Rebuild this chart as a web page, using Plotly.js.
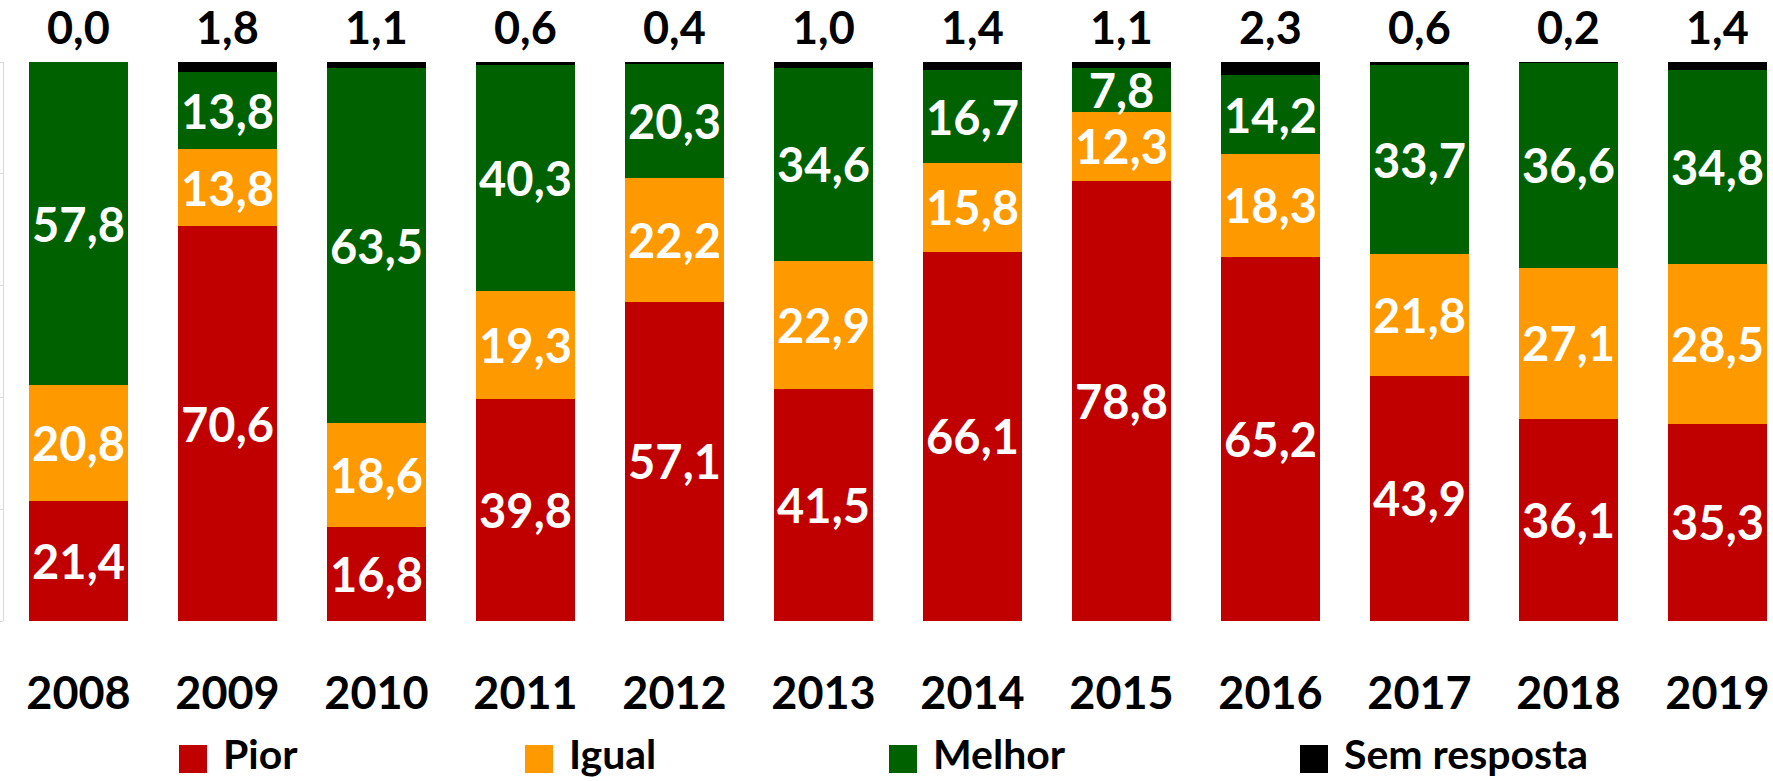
<!DOCTYPE html>
<html>
<head>
<meta charset="utf-8">
<script src="https://cdn.plot.ly/plotly-3.0.1.min.js"></script>
<style>
html,body{margin:0;padding:0;background:#fff;}
#chart{width:1773px;height:781px;}
</style>
</head>
<body>
<div id="chart"></div>
<script>
// ---- data ----
var years = ['2008','2009','2010','2011','2012','2013','2014','2015','2016','2017','2018','2019'];
var pior   = [21.4, 70.6, 16.8, 39.8, 57.1, 41.5, 66.1, 78.8, 65.2, 43.9, 36.1, 35.3];
var igual  = [20.8, 13.8, 18.6, 19.3, 22.2, 22.9, 15.8, 12.3, 18.3, 21.8, 27.1, 28.5];
var melhor = [57.8, 13.8, 63.5, 40.3, 20.3, 34.6, 16.7,  7.8, 14.2, 33.7, 36.6, 34.8];
var semResposta = [0.0, 1.8, 1.1, 0.6, 0.4, 1.0, 1.4, 1.1, 2.3, 0.6, 0.2, 1.4];
var seriesNames = ['Pior', 'Igual', 'Melhor', 'Sem resposta'];
var seriesColors = ['#C00000', '#FF9900', '#006100', '#000000'];

// ---- helpers ----
function fmt(v){ return v.toFixed(1).replace('.', ','); }
var FONT = 'Lato, "Open Sans", sans-serif';
var W = 1773, H = 781, L = 4, R = 0, T = 62, B = 160;
var plotW = W - L - R, plotH = H - T - B;
function px2x(px){ return (px - L) / plotW; }
function py2y(py){ return 1 - (py - T) / plotH; }

var seriesValues = [pior, igual, melhor, semResposta];
var traces = seriesValues.map(function(vals, k){
  var isLast = (k === seriesValues.length - 1);
  return {
    type: 'bar',
    name: seriesNames[k],
    x: years,
    y: vals,
    marker: {color: seriesColors[k], line: {width: 0}},
    text: isLast ? null : vals.map(fmt),
    textposition: isLast ? 'none' : 'inside',
    insidetextanchor: 'middle',
    textangle: 0,
    constraintext: 'none',
    insidetextfont: {family: FONT, size: 47, color: '#ffffff', weight: 700},
    hoverinfo: 'x+y+name',
    showlegend: false
  };
});

// top labels (Sem resposta values) above each stack
// (category axis: annotation x given as the category index)
var annotations = years.map(function(yr, i){
  var top = Math.round((pior[i] + igual[i] + melhor[i] + semResposta[i]) * 10) / 10;
  return {
    x: i, y: top, xref: 'x', yref: 'y',
    text: fmt(semResposta[i]),
    showarrow: false,
    yanchor: 'middle', xanchor: 'center',
    yshift: 35,
    font: {family: FONT, size: 45, color: '#000000', weight: 700}
  };
});

// custom legend
var legendSquareLeft = [179, 525, 889, 1300];
var shapes = [];
seriesNames.forEach(function(nm, k){
  var x0 = legendSquareLeft[k];
  shapes.push({
    type: 'rect', xref: 'paper', yref: 'paper',
    x0: px2x(x0), x1: px2x(x0 + 28),
    y0: py2y(773), y1: py2y(745),
    fillcolor: seriesColors[k], line: {width: 0}
  });
  annotations.push({
    xref: 'paper', yref: 'paper',
    x: px2x(x0 + 42), y: py2y(754),
    xanchor: 'left', yanchor: 'middle',
    text: nm, showarrow: false,
    font: {family: FONT, size: 41, color: '#000000', weight: 700}
  });
});

var layout = {
  width: W, height: H,
  margin: {l: L, r: R, t: T, b: B, pad: 0},
  paper_bgcolor: '#ffffff',
  plot_bgcolor: '#ffffff',
  barmode: 'stack',
  bargap: 0.33,
  showlegend: false,
  xaxis: {
    type: 'category',
    range: [-0.5, -0.5 + plotW / 149],
    showgrid: false, zeroline: false, showline: false,
    ticks: '',
    ticklabelstandoff: 42,
    tickfont: {family: FONT, size: 45, color: '#000000', weight: 700},
    fixedrange: true
  },
  yaxis: {
    range: [0, 100],
    dtick: 20, tick0: 0,
    showgrid: false, zeroline: false,
    showline: true, linecolor: '#d9d9d9', linewidth: 1,
    ticks: 'outside', ticklen: 4, tickcolor: '#d9d9d9',
    showticklabels: false,
    fixedrange: true
  },
  annotations: annotations,
  shapes: shapes
};

Plotly.newPlot('chart', traces, layout, {displayModeBar: false, staticPlot: true});
</script>
</body>
</html>
